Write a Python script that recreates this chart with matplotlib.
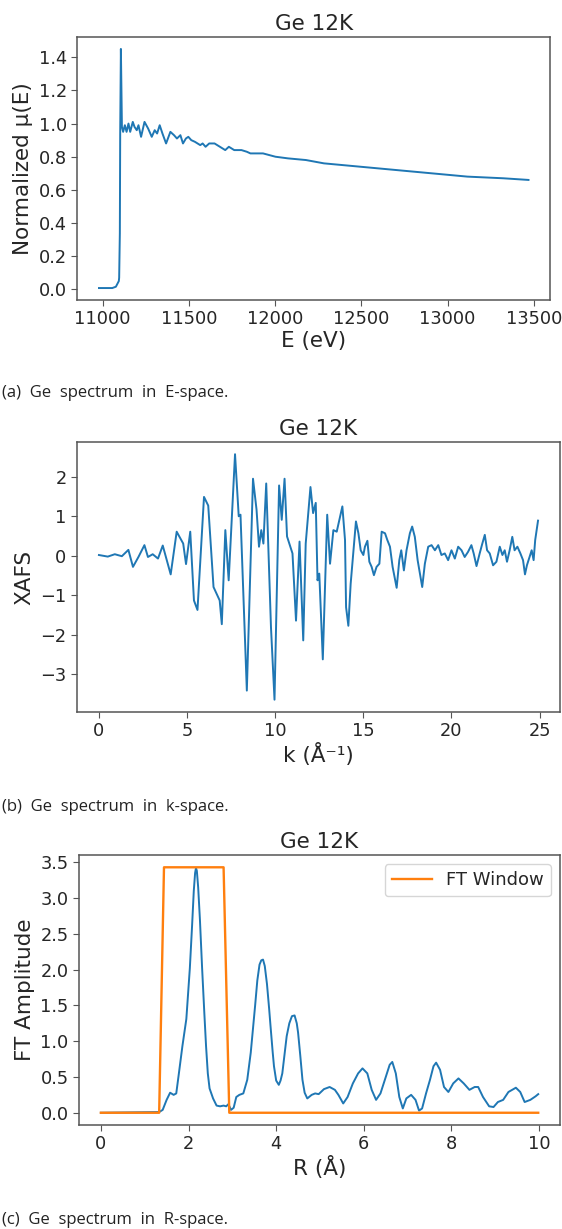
import matplotlib.pyplot as plt

# E-space: normalized mu(E)
energy = [10979, 11015, 11056, 11077, 11094, 11096, 11100, 11102, 11106, 11112, 11119, 11129,
          11139, 11150, 11160, 11175, 11185, 11198, 11208, 11223, 11243, 11264, 11285, 11302,
          11316, 11331, 11347, 11368, 11393, 11414, 11431, 11451, 11466, 11483, 11497, 11514,
          11535, 11566, 11580, 11597, 11618, 11649, 11680, 11711, 11732, 11763, 11805, 11836,
          11857, 11888, 11930, 12002, 12075, 12179, 12283, 12387, 12491, 12699, 12907, 13115,
          13323, 13469]
mu_norm = [0.008, 0.008, 0.008, 0.016, 0.05, 0.07, 0.34, 0.94, 1.45, 0.98, 0.95, 0.99,
           0.95, 1.0, 0.95, 1.01, 0.98, 0.96, 0.99, 0.92, 1.01, 0.97, 0.92, 0.96,
           0.94, 0.99, 0.94, 0.88, 0.95, 0.93, 0.91, 0.93, 0.88, 0.91, 0.92, 0.90,
           0.89, 0.87, 0.88, 0.86, 0.88, 0.88, 0.86, 0.84, 0.86, 0.84, 0.84, 0.83,
           0.82, 0.82, 0.82, 0.80, 0.79, 0.78, 0.76, 0.75, 0.74, 0.72, 0.70, 0.68,
           0.67, 0.66]

# k-space: XAFS
k_vals = [0.0, 0.5, 0.9, 1.3, 1.67, 1.93, 2.24, 2.58, 2.78, 3.05, 3.35, 3.62, 4.07, 4.41,
          4.78, 4.94, 5.18, 5.39, 5.59, 5.96, 6.2, 6.5, 6.85, 6.97, 7.17, 7.36, 7.72, 7.93,
          8.03, 8.39, 8.74, 8.94, 9.08, 9.21, 9.33, 9.49, 9.76, 9.96, 10.22, 10.37, 10.53,
          10.67, 10.98, 11.18, 11.38, 11.59, 11.73, 12.0, 12.15, 12.3, 12.4, 12.5, 12.7,
          12.95, 13.11, 13.3, 13.49, 13.64, 13.81, 13.96, 14.02, 14.15, 14.28, 14.47, 14.58,
          14.72, 14.85, 15.0, 15.09, 15.23, 15.34, 15.47, 15.6, 15.75, 15.91, 16.04, 16.23,
          16.36, 16.51, 16.66, 16.89, 17.04, 17.15, 17.3, 17.45, 17.64, 17.77, 17.92, 18.08,
          18.21, 18.34, 18.49, 18.68, 18.87, 19.06, 19.25, 19.43, 19.62, 19.81, 20.0, 20.19,
          20.38, 20.57, 20.75, 20.94, 21.13, 21.26, 21.42, 21.6, 21.75, 21.89, 22.02, 22.17,
          22.36, 22.55, 22.74, 22.89, 23.02, 23.15, 23.3, 23.45, 23.58, 23.74, 23.91, 24.06,
          24.17, 24.28, 24.43, 24.55, 24.66, 24.75, 24.91]
xafs = [0.02, -0.02, 0.04, -0.01, 0.15, -0.28, -0.03, 0.27, -0.03, 0.04, -0.07, 0.26, -0.47, 0.61,
        0.31, -0.21, 0.61, -1.13, -1.37, 1.49, 1.27, -0.79, -1.13, -1.73, 0.65, -0.62, 2.57, 1.0,
        1.04, -3.41, 1.95, 1.17, 0.23, 0.65, 0.31, 1.83, -1.81, -3.64, 1.78, 0.91, 1.95,
        0.49, 0.06, -1.64, 0.36, -2.14, 0.31, 1.74, 1.08, 1.34, -0.62, -0.45, -2.62,
        1.04, -0.2, 0.65, 0.61, 0.91, 1.25, 0.4, -1.3, -1.77, -0.71, 0.31, 0.87,
        0.57, 0.14, 0.02, 0.23, 0.38, -0.15, -0.28, -0.49, -0.28, -0.2, 0.61, 0.57,
        0.4, 0.23, -0.28, -0.81, -0.11, 0.14, -0.37, 0.14, 0.57, 0.74, 0.48, -0.11,
        -0.45, -0.79, -0.2, 0.23, 0.27, 0.14, 0.27, 0.02, 0.06, -0.11, 0.14, -0.07,
        0.23, 0.14, -0.03, 0.1, 0.27, 0.06, -0.26, 0.06, 0.31, 0.53, 0.14, 0.06,
        -0.24, -0.15, 0.23, 0.02, 0.14, -0.15, 0.14, 0.48, 0.14, 0.23, 0.06, -0.11,
        -0.47, -0.24, -0.03, 0.14, -0.11, 0.4, 0.89]

# R-space: FT amplitude
r_vals = [0.0, 1.33, 1.41, 1.5, 1.58, 1.66, 1.72, 1.78, 1.86, 1.95, 2.03, 2.08, 2.12, 2.15,
          2.17, 2.19, 2.22, 2.26, 2.31, 2.36, 2.4, 2.44, 2.48, 2.56, 2.64, 2.72, 2.8, 2.86,
          2.91, 2.97, 3.03, 3.09, 3.16, 3.25, 3.34, 3.42, 3.52, 3.57, 3.62, 3.66, 3.7, 3.74,
          3.79, 3.84, 3.87, 3.92, 3.95, 4.0, 4.06, 4.1, 4.14, 4.24, 4.3, 4.36, 4.42, 4.47,
          4.5, 4.55, 4.6, 4.65, 4.71, 4.81, 4.89, 4.97, 5.09, 5.22, 5.34, 5.42, 5.53, 5.63,
          5.75, 5.87, 5.97, 6.08, 6.18, 6.28, 6.38, 6.48, 6.59, 6.65, 6.73, 6.81, 6.89, 6.97,
          7.08, 7.18, 7.26, 7.33, 7.42, 7.51, 7.59, 7.65, 7.74, 7.83, 7.93, 8.04, 8.16, 8.28,
          8.41, 8.53, 8.61, 8.72, 8.86, 8.96, 9.06, 9.18, 9.3, 9.47, 9.57, 9.67, 9.8, 9.92,
          9.98]
ft_amp = [0.0, 0.01, 0.04, 0.18, 0.28, 0.25, 0.27, 0.55, 0.93, 1.31, 2.02, 2.6, 3.1, 3.35,
          3.42, 3.38, 3.15, 2.7, 2.02, 1.4, 0.93, 0.55, 0.34, 0.2, 0.1, 0.09, 0.1, 0.09,
          0.12, 0.04, 0.07, 0.22, 0.25, 0.27, 0.46, 0.84, 1.5, 1.85, 2.07, 2.13, 2.14, 2.05,
          1.8, 1.45, 1.22, 0.85, 0.65, 0.45, 0.39, 0.45, 0.55, 1.07, 1.25, 1.35, 1.36, 1.25,
          1.12, 0.8, 0.46, 0.28, 0.2, 0.25, 0.27, 0.26, 0.33, 0.36, 0.32, 0.25, 0.13, 0.22,
          0.41, 0.55, 0.62, 0.55, 0.32, 0.18, 0.27, 0.46, 0.67, 0.71, 0.55, 0.22, 0.06, 0.2,
          0.25, 0.18, 0.03, 0.06, 0.27, 0.46, 0.65, 0.7, 0.6, 0.36, 0.29, 0.41, 0.48, 0.41,
          0.32, 0.36, 0.36, 0.22, 0.09, 0.08, 0.15, 0.18, 0.29, 0.35, 0.29, 0.15, 0.18, 0.23,
          0.26]

win_r = [0.0, 1.33, 1.44, 2.80, 2.93, 9.98]
win_amp = [0.0, 0.0, 3.43, 3.43, 0.0, 0.0]

captions = ["(a) Ge spectrum in E-space.", "(b) Ge spectrum in k-space.",
            "(c) Ge spectrum in R-space."]

#======================================================================================================================

TICK_FS = 12.8
LABEL_FS = 15.5
TEXT_COLOR = '#262626'
SPINE_COLOR = '#555555'


def styleAxes(ax, title, xlabel, ylabel):
    ax.set_title(title, fontsize=LABEL_FS, color=TEXT_COLOR, pad=5)
    ax.set_xlabel(xlabel, fontsize=LABEL_FS, color=TEXT_COLOR, labelpad=2)
    ax.set_ylabel(ylabel, fontsize=LABEL_FS, color=TEXT_COLOR, labelpad=4)
    ax.tick_params(labelsize=TICK_FS, colors=SPINE_COLOR, labelcolor=TEXT_COLOR, length=4)
    for s in ax.spines.values():
        s.set_color(SPINE_COLOR)
        s.set_linewidth(1.1)


def main():
    fig = plt.figure(figsize=(5.62, 12.29), dpi=100)

    ax1 = fig.add_axes([0.1379, 0.7559, 0.8407, 0.2140])
    ax1.plot(energy, mu_norm, color='#1f77b4', lw=1.4)
    ax1.set_yticks([0.0, 0.2, 0.4, 0.6, 0.8, 1.0, 1.2, 1.4])
    styleAxes(ax1, "Ge 12K", "E (eV)", "Normalized μ(E)")

    ax2 = fig.add_axes([0.137, 0.4207, 0.8594, 0.2197])
    ax2.plot(k_vals, xafs, color='#1f77b4', lw=1.4)
    ax2.set_xticks([0, 5, 10, 15, 20, 25])
    styleAxes(ax2, "Ge 12K", "k (Å⁻¹)", "XAFS")

    ax3 = fig.add_axes([0.1406, 0.0846, 0.856, 0.2197])
    ax3.plot(r_vals, ft_amp, color='#1f77b4', lw=1.4)
    ax3.plot(win_r, win_amp, color='#ff7f0e', lw=1.7, label="FT Window")
    ax3.set_yticks([0.0, 0.5, 1.0, 1.5, 2.0, 2.5, 3.0, 3.5])
    styleAxes(ax3, "Ge 12K", "R (Å)", "FT Amplitude")
    leg = ax3.legend(loc='upper right', fontsize=13, handlelength=2.2)
    for t in leg.get_texts():
        t.set_color(TEXT_COLOR)

    cap_y = [1229 - 393, 1229 - 807, 1229 - 1220]
    for txt, y in zip(captions, cap_y):
        fig.text(0.004, y / 1229, txt.replace(" ", "  "), fontsize=12,
                 family=['Open Sans', 'DejaVu Sans'],
                 color='#222222', va='center', ha='left')

    fig.savefig("out.png", dpi=100)


if __name__ == "__main__":
    main()
